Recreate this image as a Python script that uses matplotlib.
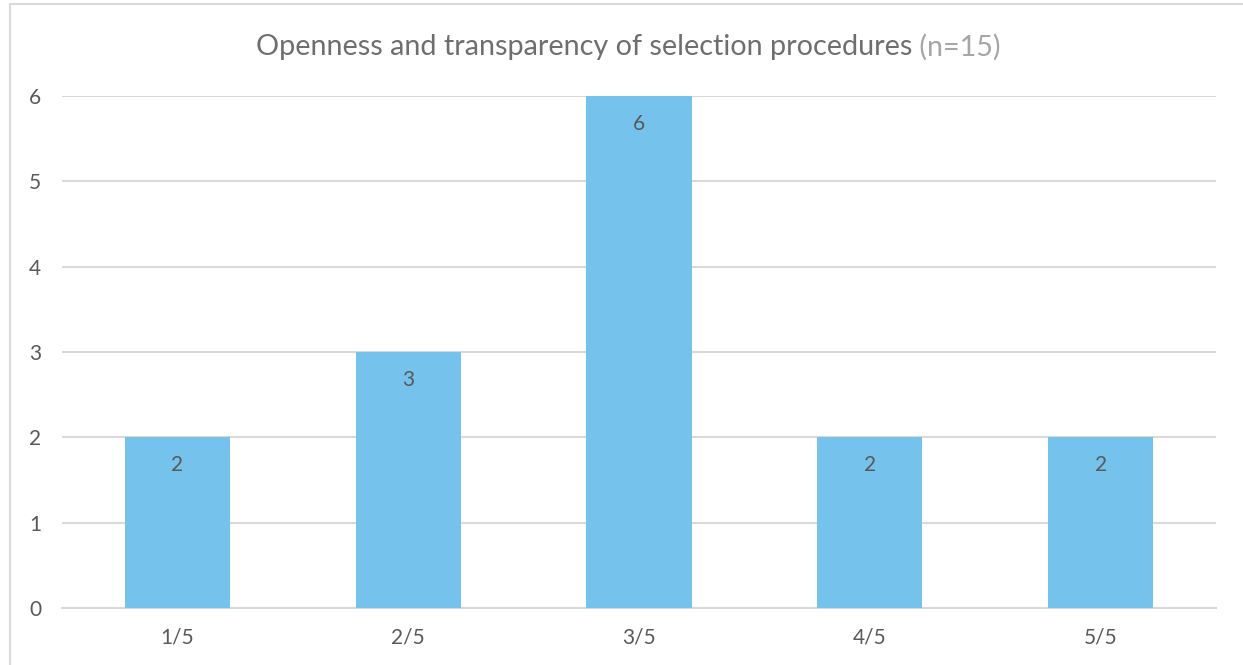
import matplotlib
matplotlib.use("Agg")
import matplotlib.pyplot as plt
from matplotlib.patches import Rectangle

# scores on a five-point scale, number of respondents per score
categories = ["1/5", "2/5", "3/5", "4/5", "5/5"]
counts = [2, 3, 6, 2, 2]
y_ticks = [0, 1, 2, 3, 4, 5, 6]

title_main = "Openness and transparency of selection procedures"
title_note = " (n=15)"

BAR_COLOR = "#75C3EC"
GRID_COLOR = "#D9D9D9"
TEXT_COLOR = "#595959"

plt.rcParams["font.family"] = ["Lato", "DejaVu Sans"]

fig = plt.figure(figsize=(12.43, 6.65), dpi=100)
fig.patch.set_facecolor("white")

# thin frame on the left and top edges of the chart area
fig.patches.append(Rectangle((10 / 1243, -0.1), 1.2, 1 - 4 / 665 + 0.1,
                             transform=fig.transFigure, fill=False,
                             edgecolor=GRID_COLOR, linewidth=1.5))

ax = fig.add_axes([62 / 1243, 1 - 608 / 665, (1216 - 62) / 1243, (608 - 96) / 665])
x = list(range(len(categories)))
bars = ax.bar(x, counts, width=0.455, color=BAR_COLOR, zorder=3)

ax.set_xlim(-0.5, len(categories) - 0.5)
ax.set_ylim(0, 6)
ax.set_yticks(y_ticks)
ax.set_xticks(x)
ax.set_xticklabels(categories)
ax.yaxis.grid(True, color=GRID_COLOR, linewidth=1.5, zorder=0)
ax.tick_params(axis="both", length=0, colors=TEXT_COLOR, labelsize=15)
ax.tick_params(axis="y", pad=15)
ax.tick_params(axis="x", pad=14)
for side in ["top", "right", "left"]:
    ax.spines[side].set_visible(False)
ax.spines["bottom"].set_color(GRID_COLOR)
ax.spines["bottom"].set_linewidth(1.5)
ax.set_axisbelow(True)

for rect, val in zip(bars, counts):
    ax.annotate(str(val), (rect.get_x() + rect.get_width() / 2, val),
                xytext=(0, -20), textcoords="offset points",
                ha="center", va="center", fontsize=15, color=TEXT_COLOR)

# two-tone title, centred as one line
t1 = fig.text(0.5, 1 - 47 / 665, title_main, fontsize=20.7, color="#6E6E6E",
              ha="left", va="center")
t2 = fig.text(0.5, 1 - 47 / 665, title_note, fontsize=20.7, color="#A6A6A6",
              ha="left", va="center")
fig.canvas.draw()
r = fig.canvas.get_renderer()
w1 = t1.get_window_extent(r).width
w2 = t2.get_window_extent(r).width
W = fig.bbox.width
cx = 628
t1.set_x((cx - (w1 + w2) / 2) / W)
t2.set_x((cx - (w1 + w2) / 2 + w1) / W)

fig.savefig("out.png", dpi=100)
